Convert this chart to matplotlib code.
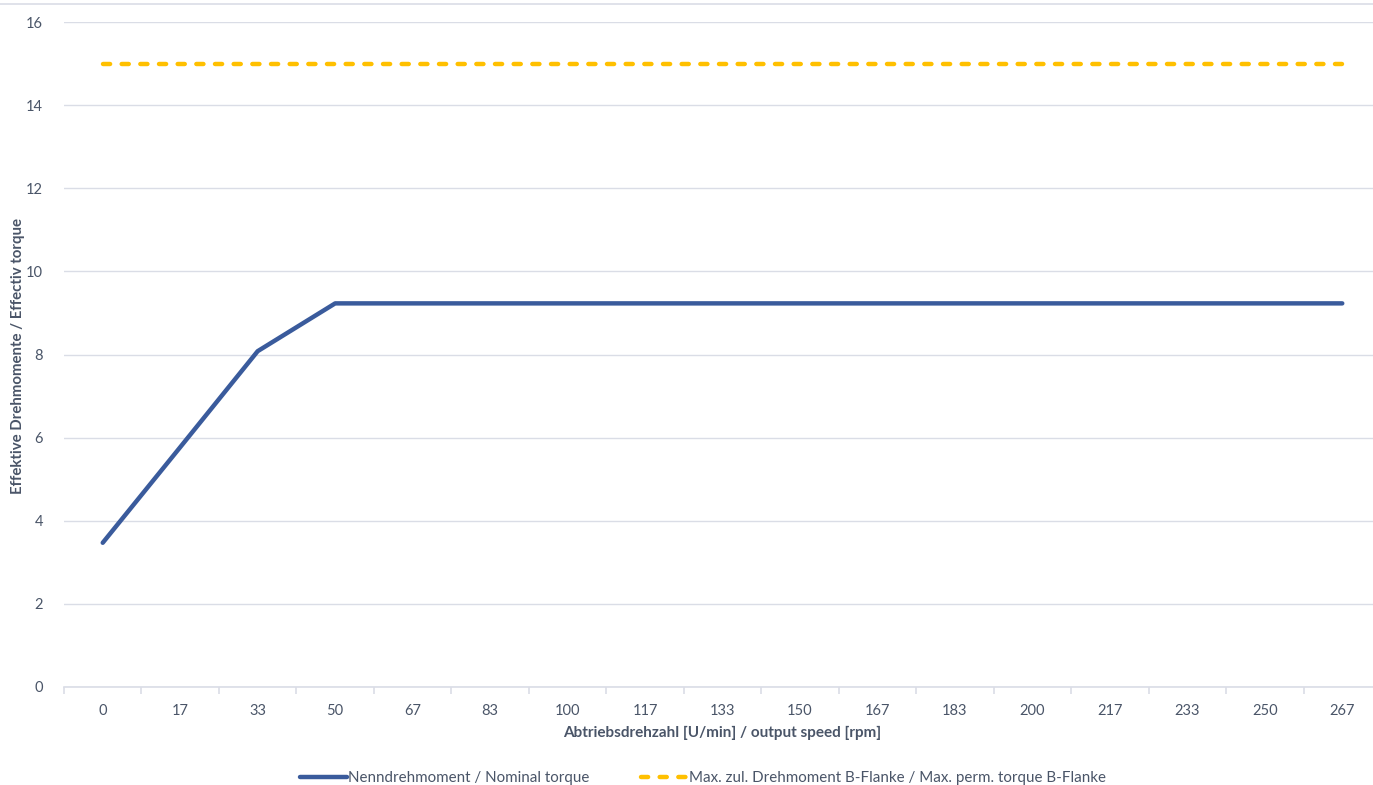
import numpy as np
import matplotlib.pyplot as plt
from matplotlib.lines import Line2D

# output speed categories [rpm]
speed = ['0', '17', '33', '50', '67', '83', '100', '117', '133', '150',
         '167', '183', '200', '217', '233', '250', '267']
# nominal torque
nominal = [3.47, 5.77, 8.08, 9.23, 9.23, 9.23, 9.23, 9.23, 9.23, 9.23,
           9.23, 9.23, 9.23, 9.23, 9.23, 9.23, 9.23]
# max permissible torque B-Flanke
max_perm = [15, 15, 15, 15, 15, 15, 15, 15, 15, 15,
            15, 15, 15, 15, 15, 15, 15]

blue = '#3a5b9c'
yellow = '#ffc000'
grid_c = '#dadde6'
txt_c = '#4a5568'

plt.rcParams['font.family'] = ['Lato', 'DejaVu Sans']

fig = plt.figure(figsize=(13.73, 7.85), dpi=100)
W, H = 1373, 785
ax = fig.add_axes([64 / W, 1 - 687 / H, (1381 - 64) / W, (687 - 22) / H])

x = np.arange(len(speed))
ax.plot(x, nominal, color=blue, lw=3.2, solid_capstyle='round', zorder=3)
ax.plot(x, max_perm, color=yellow, lw=3.2, dashes=(1.6, 2.6),
        dash_capstyle='round', zorder=3)

ax.set_xlim(-0.5, len(speed) - 0.5)
ax.set_ylim(0, 16)
ax.set_yticks(np.arange(0, 17, 2))
ax.set_xticks(x)
ax.set_xticklabels(speed)
ax.set_xticks(np.arange(-0.5, len(speed), 1), minor=True)

ax.grid(axis='y', color=grid_c, lw=1)
ax.set_axisbelow(True)
for s in ['top', 'right', 'left']:
    ax.spines[s].set_visible(False)
ax.spines['bottom'].set_color(grid_c)
ax.spines['bottom'].set_linewidth(1.2)

ax.tick_params(axis='x', which='major', length=0, pad=12, labelsize=10.5, labelcolor=txt_c)
ax.tick_params(axis='x', which='minor', length=5, color=grid_c, width=1.2)
ax.tick_params(axis='y', length=0, pad=15, labelsize=10.5, labelcolor=txt_c)

ax.set_xlabel('Abtriebsdrehzahl [U/min] / output speed [rpm]', fontsize=11,
              fontweight='bold', color=txt_c, labelpad=6)
fig.text(18 / W, 1 - 356 / H, 'Effektive Drehmomente / Effectiv torque',
         rotation=90, ha='center', va='center', fontsize=10.8,
         fontweight='bold', color=txt_c)

# chart area top border
fig.add_artist(Line2D([0, 1], [1 - 4 / H, 1 - 4 / H], color=grid_c, lw=1.2))

handles = [Line2D([], [], color=blue, lw=3.2, solid_capstyle='round'),
           Line2D([], [], color=yellow, lw=3.2, dashes=(1.6, 2.6), dash_capstyle='round')]
labels = ['Nenndrehmoment / Nominal torque',
          'Max. zul. Drehmoment B-Flanke / Max. perm. torque B-Flanke']
fig.legend(handles, labels, loc='center', bbox_to_anchor=(0.512, 1 - 778 / H),
           ncol=2, frameon=False, fontsize=10.9, handlelength=3.1,
           handletextpad=0.1, columnspacing=3.4, labelcolor=txt_c)

fig.savefig('out.png', dpi=100)
